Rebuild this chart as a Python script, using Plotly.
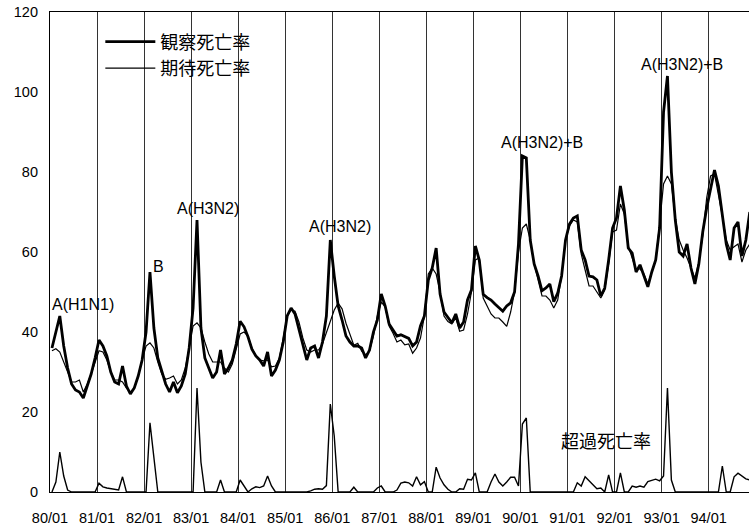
import numpy as np
import plotly.graph_objects as go

# Monthly mortality rates, 1980/01 - 1994/11
observed = [
    36, 40, 44, 36.5, 31, 27, 25.5, 25, 23.5, 26.5, 29.5, 33.5,          # 1980
    38, 36.5, 34, 30, 27.5, 27, 31.5, 26.5, 24.5, 26, 29, 33,            # 1981
    40, 55, 41, 33.5, 30, 27, 25, 27.5, 24.8, 26.5, 29.5, 36,            # 1982
    46, 68, 41, 33.5, 31, 28.5, 30, 35.5, 29.5, 31, 33, 37,              # 1983
    42.7, 41.3, 38.8, 35.7, 34, 33, 31.5, 35, 29, 30.5, 33, 37.5,        # 1984
    44, 46, 44.5, 40.5, 37, 33, 36, 36.5, 33.5, 37.5, 44, 63,            # 1985
    54, 46.5, 43, 39, 37.5, 36.5, 36.5, 36, 33.5, 35.5, 40, 43,          # 1986
    49.5, 46.5, 42, 40.5, 39, 39.3, 38.8, 38.4, 36.5, 37.5, 41.5, 44,    # 1987
    53, 56, 61, 49.5, 45, 43.5, 42.3, 44.5, 41, 42.5, 48, 50.5,          # 1988
    61.5, 58, 49.4, 48.6, 48, 47, 46, 45.2, 46.5, 47.3, 50, 62,          # 1989
    84, 83.5, 63, 57, 54, 50.3, 51, 52, 47.6, 49.7, 54, 63,              # 1990
    67, 68.5, 69, 60.5, 58, 54, 53.8, 53, 49, 51, 58, 66,                # 1991
    68.5, 76.5, 70.5, 61, 59.7, 55, 56.8, 54, 51.3, 55, 58, 66,          # 1992
    95, 104, 80, 68, 60, 59, 62, 56, 52, 57, 65, 71,                     # 1993
    76, 80.5, 76.5, 69.5, 62, 58, 66, 67.5, 59, 63, 70,                  # 1994
]
expected = [
    35.3, 35.8, 35, 32.5, 29.5, 27.5, 27.5, 28, 25, 27, 29.5, 32.5,      # 1980
    35.3, 35, 33, 30, 28, 28, 27.5, 26, 25, 26, 29, 33,                  # 1981
    36.5, 37.3, 36, 32.5, 29.5, 28.2, 28.5, 29, 27, 28, 31, 36,          # 1982
    41.5, 42.3, 41, 37.5, 34.5, 32.5, 32.5, 32.5, 31, 30, 32, 36,        # 1983
    39.5, 40, 39, 36, 34, 33, 32.8, 33, 31.3, 31.5, 33.5, 38.5,          # 1984
    44, 45.5, 45.2, 42.5, 38.5, 35.5, 35, 35.5, 35.5, 37, 40, 42.5,      # 1985
    45.5, 47.2, 45.8, 42.2, 39.3, 36.7, 37.2, 35.2, 34.3, 35.3, 39, 44,  # 1986
    47.5, 46.3, 41.5, 39.7, 37.5, 38, 36.8, 37, 34.7, 36, 38.5, 44,      # 1987
    54.5, 56, 54.5, 50, 44, 42.6, 42, 43.5, 40.2, 40.5, 44.5, 50,        # 1988
    58, 58.5, 48.5, 46.5, 44.5, 43.5, 43.5, 42.5, 41.4, 45, 50, 60,      # 1989
    66, 67, 63, 57, 53, 49, 49, 48, 46, 48, 54, 63,                      # 1990
    66.5, 68, 67.5, 59.5, 55.5, 51.5, 51.5, 50, 48.5, 50.5, 57, 65,      # 1991
    65.5, 72, 69.5, 61.5, 58.5, 55.5, 55.8, 54.5, 52, 55, 58, 67,        # 1992
    77, 79, 77, 68.5, 63, 60.5, 58.5, 56, 53.5, 57.5, 64, 73.5,          # 1993
    79, 79.5, 74.5, 69, 63, 60.5, 61.3, 62, 57.5, 60.5, 62,              # 1994
]
excess = [
    0, 2.5, 10, 4, 0.5, 0, 0, 0, 0, 0, 0, 0,                             # 1980
    2.2, 1.3, 1, 0.8, 0.6, 0.5, 3.8, 0, 0, 0, 0, 0,                      # 1981
    0, 17.3, 8.3, 0, 0, 0, 0, 0, 0, 0, 0, 0,                             # 1982
    0, 26, 7.5, 0, 0, 0, 0, 3, 0, 0, 0, 0,                               # 1983
    3, 1.5, 0, 0.8, 1.3, 1.1, 1.5, 4, 1.5, 0, 0, 0,                      # 1984
    0, 0, 0, 0, 0, 0, 0.3, 0.7, 0.8, 0.7, 1.6, 22,                       # 1985
    14, 0, 0, 0, 0, 1.2, 0, 0, 0, 0, 0, 1,                               # 1986
    1.5, 0, 0, 0, 0.5, 2.2, 2.5, 2.3, 1.5, 3.8, 1.8, 2.6,                # 1987
    0, 0, 6.2, 3.5, 1.8, 0.7, 0, 0, 0.8, 0.7, 3.2, 3,                    # 1988
    4.8, 0, 0, 0, 2.5, 4.5, 2.5, 1.5, 2.5, 3.7, 3.7, 1.5,                # 1989
    17, 18.5, 0, 0, 0, 0, 0, 0, 0, 0, 0, 0,                              # 1990
    0, 0, 2.3, 1.5, 3.8, 2.8, 2, 0.8, 1, 0, 4.3, 0,                      # 1991
    0, 4.8, 0, 0, 1.5, 1.2, 1.5, 1.2, 2.6, 3, 3.2, 2.8,                  # 1992
    4, 26, 3, 0, 0, 0, 0, 0, 0, 0, 0, 0,                                 # 1993
    0, 0, 0, 6.5, 0, 0, 3.8, 4.7, 4, 3.3, 3,                             # 1994
]
year_labels = ["80/01", "81/01", "82/01", "83/01", "84/01", "85/01", "86/01",
               "87/01", "88/01", "89/01", "90/01", "91/01", "92/01", "93/01", "94/01"]
series_names = ["観察死亡率", "期待死亡率", "超過死亡率"]
epidemic_labels = ["A(H1N1)", "B", "A(H3N2)", "A(H3N2)", "A(H3N2)+B", "A(H3N2)+B"]
epidemic_x = [8.5, 27.6, 40.2, 74.0, 125.5, 161.2]
epidemic_y = [46.8, 56.5, 71.0, 66.3, 87.3, 106.8]

# category positions (points centred within each month)
months = np.arange(len(observed)) + 0.5
year_ticks = [12 * i for i in range(len(year_labels))]

LAT = "Liberation Sans, Arial, sans-serif"
CJK = "Noto Sans CJK JP, sans-serif"

fig = go.Figure()
fig.add_trace(go.Scatter(x=months, y=observed, mode="lines", name=series_names[0],
                         line=dict(color="black", width=2.8)))
fig.add_trace(go.Scatter(x=months, y=expected, mode="lines", name=series_names[1],
                         line=dict(color="black", width=1.2)))
fig.add_trace(go.Scatter(x=months, y=excess, mode="lines", name=series_names[2],
                         line=dict(color="black", width=1.4), showlegend=False))

annotations = []
for t, ax, ay in zip(epidemic_labels, epidemic_x, epidemic_y):
    annotations.append(dict(x=ax, y=ay, xref="x", yref="y", text=t, showarrow=False,
                            font=dict(family=LAT, size=16, color="black")))
annotations.append(dict(x=141.8, y=13, xref="x", yref="y", text=series_names[2],
                        showarrow=False, font=dict(family=CJK, size=18, color="black")))

fig.update_layout(
    width=749, height=526,
    margin=dict(l=50, r=0, t=12, b=34),
    paper_bgcolor="white", plot_bgcolor="white",
    showlegend=True,
    legend=dict(x=0.072, y=0.976, xanchor="left", yanchor="top",
                font=dict(family=CJK, size=18, color="black"),
                bgcolor="rgba(0,0,0,0)", itemwidth=50, tracegroupgap=0),
    annotations=annotations,
)
fig.update_xaxes(range=[0, 178.3], tickmode="array", tickvals=year_ticks, ticktext=year_labels,
                 showgrid=True, gridcolor="#333333", gridwidth=1,
                 showline=True, linecolor="black", linewidth=1.2, mirror=True,
                 ticks="", ticklabelstandoff=12, zeroline=False,
                 tickfont=dict(family=LAT, size=14.5, color="black"))
fig.update_yaxes(range=[0, 120], tickmode="array", tickvals=[0, 20, 40, 60, 80, 100, 120],
                 showgrid=False, zeroline=False, showline=True, linecolor="black", linewidth=1.2,
                 ticks="", ticklabelstandoff=8,
                 tickfont=dict(family=LAT, size=14.5, color="black"))

fig.write_html("out.html")
